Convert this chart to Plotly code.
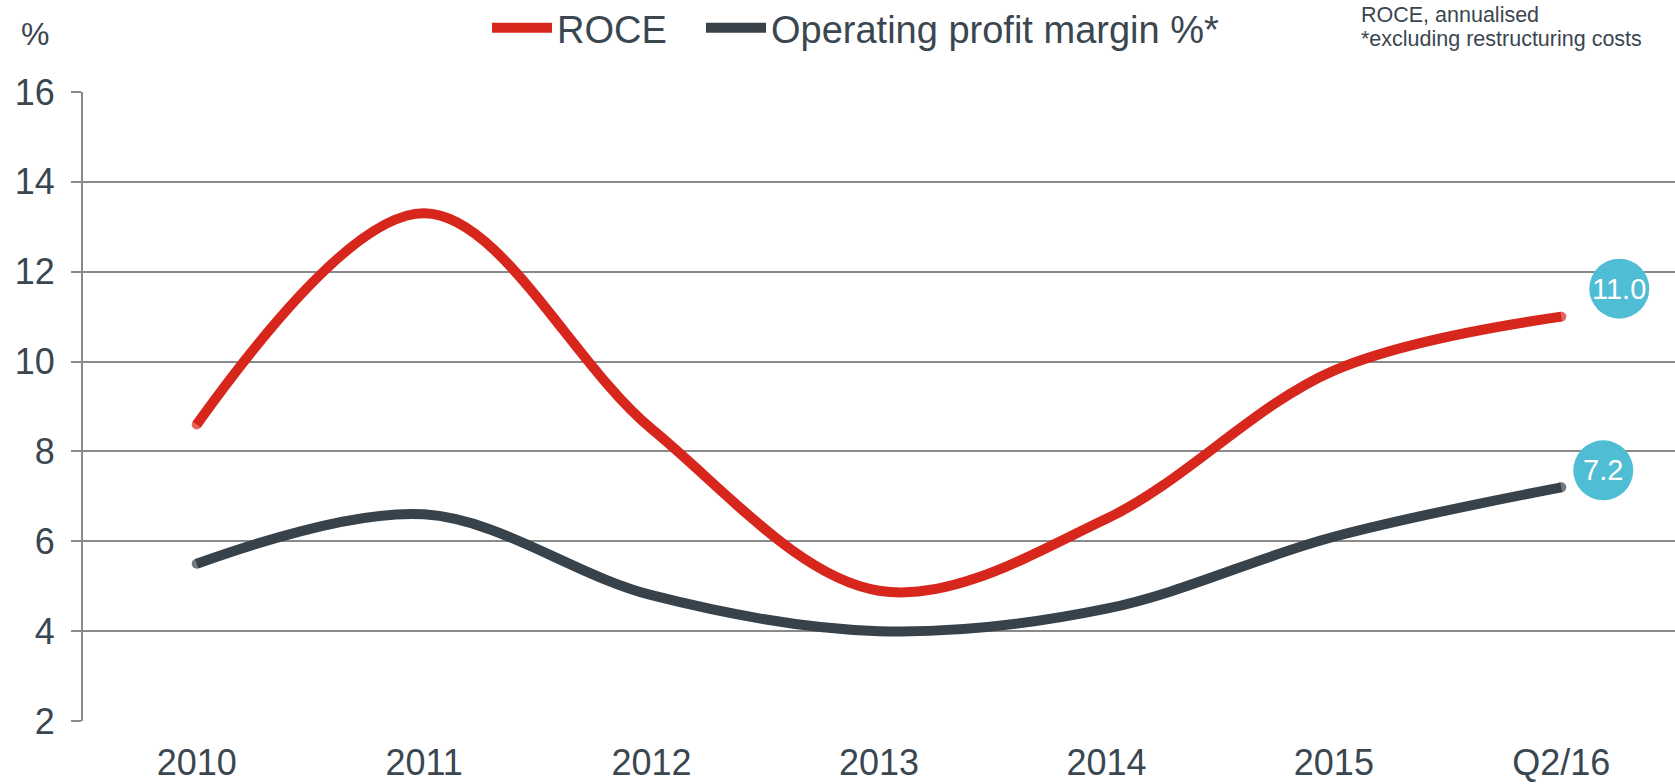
import plotly.graph_objects as go

categories = ["2010", "2011", "2012", "2013", "2014", "2015", "Q2/16"]
roce = [8.6, 13.3, 8.5, 4.9, 6.5, 9.8, 11.0]
op_margin = [5.5, 6.6, 4.8, 4.0, 4.5, 6.1, 7.2]
y_ticks = [2, 4, 6, 8, 10, 12, 14, 16]

FONT = "Liberation Sans, Arial, sans-serif"
TXT = "#3a4650"
GRID = "#8a8a8a"
RED = "#d7261b"
DARK = "#37424a"
TEAL = "#4fbdd3"

W, H = 1675, 784
ML, MR, MT, MB = 83, 0, 92, 63
PW, PH = W - ML - MR, H - MT - MB

def px_x(x):
    return (x - ML) / PW

def px_y(y):
    return 1 + (MT - y) / PH

# round end caps: dots only at the two ends of each line
cap_sizes = [10] + [0] * (len(categories) - 2) + [10]

fig = go.Figure()
fig.add_trace(go.Scatter(x=categories, y=roce, mode="lines+markers", name="ROCE", legendwidth=139,
                         line=dict(color=RED, width=10, shape="spline", smoothing=1.0),
                         marker=dict(size=cap_sizes, color=RED, line=dict(width=0))))
fig.add_trace(go.Scatter(x=categories, y=op_margin, mode="lines+markers", name="Operating profit margin %*",
                         line=dict(color=DARK, width=10, shape="spline", smoothing=1.0),
                         marker=dict(size=cap_sizes, color=DARK, line=dict(width=0))))

# End-value badges
badges = [(roce[-1], 58, 28), (op_margin[-1], 42, 17)]
r = 30
for val, dx, dy in badges:
    fig.add_shape(type="circle", xref="x", yref="y", xsizemode="pixel", ysizemode="pixel",
                  xanchor=categories[-1], yanchor=val,
                  x0=dx - r, x1=dx + r, y0=dy - r, y1=dy + r,
                  fillcolor=TEAL, line=dict(width=0), layer="above")
    fig.add_annotation(x=categories[-1], y=val, xref="x", yref="y", text=f"{val:.1f}",
                       showarrow=False, xshift=dx, yshift=dy,
                       font=dict(family=FONT, size=29, color="white"))

fig.add_annotation(xref="paper", yref="paper", x=px_x(19), y=px_y(34),
                   text="%", showarrow=False, xanchor="left", yanchor="middle",
                   font=dict(family=FONT, size=32, color=TXT))
fig.add_annotation(xref="paper", yref="paper", x=px_x(1359), y=px_y(15),
                   text="ROCE, annualised", showarrow=False, xanchor="left", yanchor="middle",
                   font=dict(family=FONT, size=21.5, color=TXT))
fig.add_annotation(xref="paper", yref="paper", x=px_x(1359), y=px_y(39),
                   text="*excluding restructuring costs", showarrow=False, xanchor="left", yanchor="middle",
                   font=dict(family=FONT, size=21.5, color=TXT))

fig.update_layout(
    width=W, height=H,
    margin=dict(l=ML, r=MR, t=MT, b=MB, autoexpand=False),
    paper_bgcolor="white", plot_bgcolor="white",
    font=dict(family=FONT, color=TXT),
    showlegend=True,
    legend=dict(orientation="h", xref="container", yref="container",
                x=487 / W, y=1 - 28 / H, xanchor="left", yanchor="middle",
                font=dict(family=FONT, size=38, color=TXT),
                itemwidth=60, bgcolor="rgba(0,0,0,0)"),
    xaxis=dict(type="category", range=[-0.5, 6.5], showgrid=False, showline=False, ticks="",
               automargin=False,
               tickfont=dict(family=FONT, size=36, color=TXT), ticklabelstandoff=17, fixedrange=True),
    yaxis=dict(range=[2, 16], tickvals=y_ticks, showgrid=True, gridcolor=GRID, gridwidth=2,
               showline=True, linecolor=GRID, linewidth=2, ticks="outside", ticklen=10,
               tickcolor=GRID, tickwidth=2, zeroline=False, automargin=False,
               tickfont=dict(family=FONT, size=36, color=TXT), ticklabelstandoff=9, fixedrange=True),
)

fig.write_html("out.html", config={"displayModeBar": False},
               post_script="document.body.style.margin='0';document.body.style.overflow='hidden';")
